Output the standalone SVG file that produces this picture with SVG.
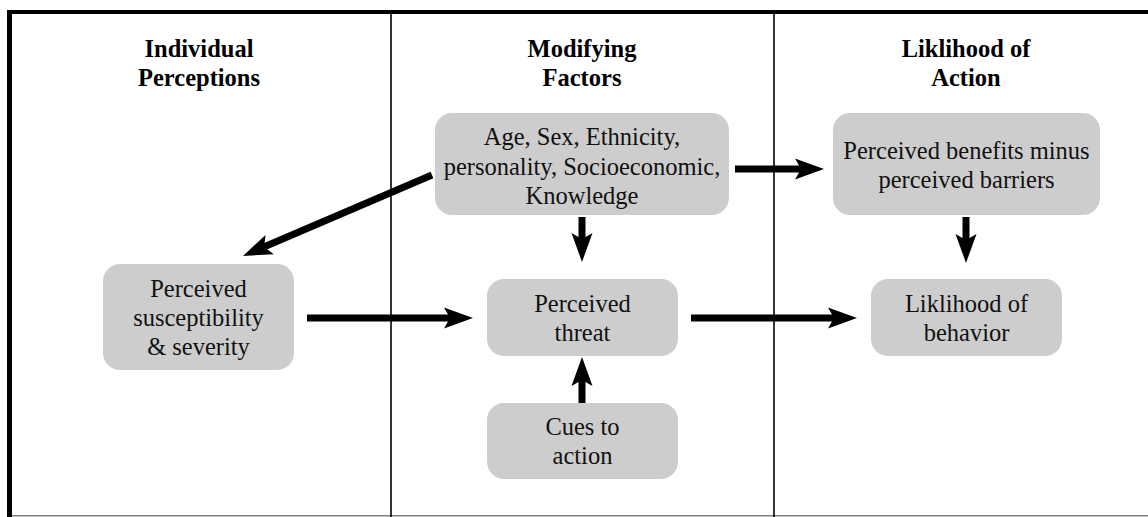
<svg xmlns="http://www.w3.org/2000/svg" width="1148" height="517" viewBox="0 0 1148 517">
<style>
  .box { fill: #cdcdcd; stroke: none; }
  .t { font-family: 'Liberation Serif', Tinos, 'Times New Roman', Times, 'Nimbus Roman', 'Nimbus Roman No9 L', FreeSerif, 'Noto Serif', 'DejaVu Serif', serif; font-size: 24.5px; fill: #111; text-anchor: middle; }
  .h { font-family: 'Liberation Serif', Tinos, 'Times New Roman', Times, 'Nimbus Roman', 'Nimbus Roman No9 L', FreeSerif, 'Noto Serif', 'DejaVu Serif', serif; font-size: 24.5px; font-weight: bold; fill: #000; text-anchor: middle; }
  .arr { stroke: #000; stroke-width: 7; fill: none; marker-end: url(#ah); }
  .div { stroke: #000; stroke-width: 1.6; }
</style>
<defs>
  <marker id="ah" markerUnits="userSpaceOnUse" viewBox="-10 -12 34 24" markerWidth="34" markerHeight="24" refX="0" refY="0" orient="auto" overflow="visible">
    <path d="M22,0 L-7,-10.5 L-1,0 L-7,10.5 Z" fill="#000"/>
  </marker>
</defs>
<rect x="0" y="0" width="1148" height="517" fill="#fff"/>
<g id="frame">
  <rect x="7" y="10" width="1141" height="4" fill="#000"/>
  <rect x="7" y="10" width="5" height="507" fill="#000"/>
  <line x1="12" y1="515.7" x2="1148" y2="515.7" stroke="#808080" stroke-width="1.5"/>
  <line class="div" x1="391" y1="14" x2="391" y2="517"/>
  <line class="div" x1="774" y1="14" x2="774" y2="517"/>
</g>
<g id="headers">
  <text class="h" x="199" y="57">Individual</text>
  <text class="h" x="199" y="86">Perceptions</text>
  <text class="h" x="582" y="57">Modifying</text>
  <text class="h" x="582" y="86">Factors</text>
  <text class="h" x="966" y="57">Liklihood of</text>
  <text class="h" x="966" y="86">Action</text>
</g>
<g id="connectors">
  <line class="arr" x1="735" y1="169" x2="802" y2="169"/>
  <line class="arr" x1="691" y1="318" x2="835" y2="318"/>
  <line class="arr" x1="307" y1="318" x2="451" y2="318"/>
  <line class="arr" x1="582" y1="217" x2="582" y2="240"/>
  <line class="arr" x1="966" y1="217" x2="966" y2="241"/>
  <line class="arr" x1="582" y1="403" x2="582" y2="379"/>
  <line class="arr" x1="432" y1="175" x2="263.2" y2="247.3"/>
</g>
<g id="modifying">
  <rect class="box" x="435" y="113" width="294" height="102" rx="17"/>
  <text class="t" x="582" y="145">Age, Sex, Ethnicity,</text>
  <text class="t" x="582" y="175">personality, Socioeconomic,</text>
  <text class="t" x="582" y="204">Knowledge</text>
</g>
<g id="benefits">
  <rect class="box" x="833" y="113" width="267" height="102" rx="17"/>
  <text class="t" x="966.5" y="159">Perceived benefits minus</text>
  <text class="t" x="966.5" y="188">perceived barriers</text>
</g>
<g id="susceptibility">
  <rect class="box" x="103" y="264" width="191" height="106" rx="17"/>
  <text class="t" x="198.5" y="297">Perceived</text>
  <text class="t" x="198.5" y="326">susceptibility</text>
  <text class="t" x="198.5" y="355">&amp; severity</text>
</g>
<g id="threat">
  <rect class="box" x="487" y="279" width="191" height="77" rx="17"/>
  <text class="t" x="582.5" y="312">Perceived</text>
  <text class="t" x="582.5" y="341">threat</text>
</g>
<g id="behavior">
  <rect class="box" x="871" y="279" width="191" height="77" rx="17"/>
  <text class="t" x="966.5" y="312">Liklihood of</text>
  <text class="t" x="966.5" y="341">behavior</text>
</g>
<g id="cues">
  <rect class="box" x="487" y="403" width="191" height="76" rx="17"/>
  <text class="t" x="582.5" y="435">Cues to</text>
  <text class="t" x="582.5" y="464">action</text>
</g>
</svg>
